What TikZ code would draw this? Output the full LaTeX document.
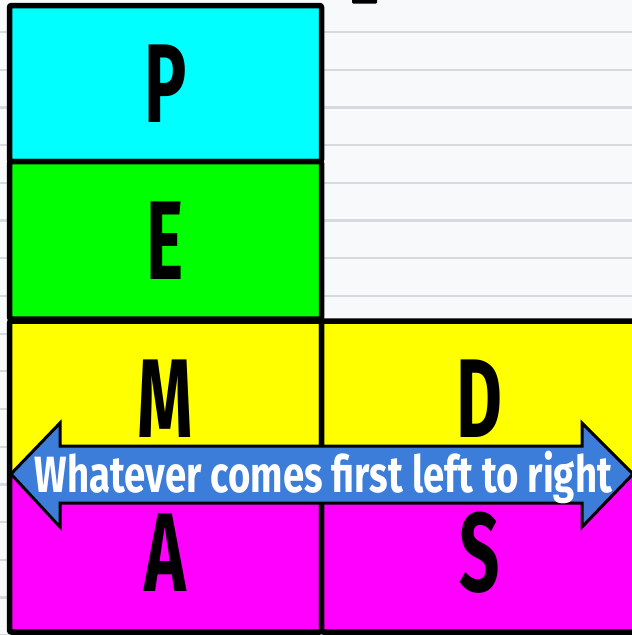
\documentclass[tikz,border=0pt]{standalone}
\usepackage{fontspec}
\setmainfont{Fira Sans}
\usetikzlibrary{positioning,backgrounds}
\pgfdeclarelayer{background}
\pgfsetlayers{background,main}
\definecolor{paperwhite}{RGB}{248,249,251}
\definecolor{paperline}{RGB}{214,217,221}
\definecolor{pemcyan}{RGB}{0,255,255}
\definecolor{pemgreen}{RGB}{0,255,0}
\definecolor{pemyellow}{RGB}{255,255,0}
\definecolor{pemmagenta}{RGB}{255,0,255}
\definecolor{bandblue}{RGB}{61,125,218}
\newcommand{\narrow}[1]{\scalebox{0.63}[1]{#1}}

\begin{document}
\begin{tikzpicture}[
  x=1pt, y=-1pt,
  every node/.style={inner sep=0pt, outer sep=0pt},
  cell/.style={draw=black, line width=5.5pt, rounded corners=2pt,
    minimum width=312pt,
    font=\fontsize{112}{112}\selectfont\bfseries},
  rcell/.style={cell, minimum width=316.5pt},
  ruled/.style={draw=paperline, line width=2.2pt},
  band/.style={draw=black, line width=3pt, fill=bandblue},
  banner/.style={text=white, font=\fontsize{51}{51}\selectfont\bfseries},
]
\useasboundingbox (0,0) rectangle (632,635);
\clip (0,0) rectangle (632,635);

% ── lined paper behind everything
\begin{pgfonlayer}{background}
\fill[paperwhite] (0,0) rectangle (632,635);
\foreach \k in {0,...,16}
  \draw[ruled] (0,{32+37.7*\k}) -- (632,{32+37.7*\k});
\fill[black, rounded corners=1pt] (352,-3) rectangle (377,3.5);
\end{pgfonlayer}

% ── LEFT COLUMN ── P, E, M, A
\node[cell, fill=pemcyan,    minimum height=156pt]   at (165.5, 83.5)  (P) {\narrow{P}};
\node[cell, fill=pemgreen,   minimum height=157.5pt] at (165.5,240.25) (E) {\narrow{E}};
\node[cell, fill=pemyellow,  minimum height=155pt]   at (165.5,398.5)  (M) {\narrow{M}};
\node[cell, fill=pemmagenta, minimum height=158pt]   at (165.5,553)    (A) {\narrow{A}};

% ── RIGHT COLUMN ── D, S
\node[rcell, fill=pemyellow,  minimum height=155pt] at (479.75,398.5) (D) {\narrow{D}};
\node[rcell, fill=pemmagenta, minimum height=158pt] at (479.75,553)   (S) {\narrow{S}};

% ── double arrow across the M/D and A/S rows
\draw[band] (11,474) -- (60,423) -- (60,446) -- (582,446) -- (582,423)
  -- (633,474) -- (582,527) -- (582,503) -- (60,503) -- (60,527) -- cycle;
\node[banner, anchor=base] at (323.5,492) (order)
  {\resizebox{577pt}{\height}{Whatever comes first left to right}};

\end{tikzpicture}
\end{document}
